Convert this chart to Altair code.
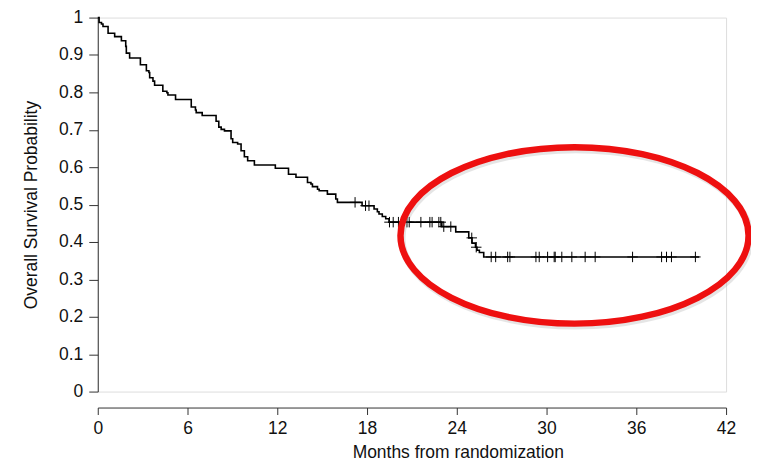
import altair as alt
import pandas as pd

# ---- Kaplan-Meier curve: month of each drop and survival level after it ----
event_months = [0.0, 0.09, 0.25, 0.35, 0.69, 1.13, 1.58, 1.87, 1.91, 2.13, 2.85, 3.25,
                3.42, 3.47, 3.69, 3.80, 4.35, 4.62, 4.69, 5.20, 6.25, 6.53, 6.58, 6.98,
                7.91, 8.09, 8.25, 8.47, 8.91, 9.02, 9.35, 9.58, 9.80, 10.02, 10.47, 11.87,
                12.75, 13.25, 14.02, 14.25, 14.35, 14.69, 14.80, 15.35, 15.91, 16.02, 17.67,
                18.47, 18.69, 18.80, 19.02, 19.25, 19.47, 23.0, 23.93, 24.8, 25.02, 25.25,
                25.35, 25.51, 25.8]
survival = [1.0, 0.987, 0.983, 0.976, 0.958, 0.949, 0.938, 0.923, 0.905, 0.892, 0.874, 0.858,
            0.853, 0.839, 0.830, 0.819, 0.803, 0.799, 0.793, 0.781, 0.761, 0.753, 0.746, 0.738,
            0.723, 0.707, 0.701, 0.697, 0.676, 0.666, 0.662, 0.644, 0.628, 0.617, 0.606, 0.597,
            0.581, 0.573, 0.559, 0.555, 0.548, 0.541, 0.537, 0.528, 0.515, 0.506, 0.497,
            0.488, 0.481, 0.475, 0.468, 0.462, 0.453, 0.441, 0.427, 0.411, 0.397, 0.386,
            0.378, 0.372, 0.360]
last_followup = 40.2

# censored observations (months)
censor_months = [17.2, 17.9, 18.13, 19.5, 19.75, 20.1, 20.67, 20.82, 21.6, 22.2, 22.35, 22.8,
                 22.93, 23.13, 23.6, 25.0, 25.3, 26.3, 26.6, 27.4, 27.55, 29.29, 29.51, 30.07,
                 30.51, 30.58, 31.02, 31.69, 32.58, 33.25, 35.75, 37.69, 38.02, 38.35, 39.95]

x_ticks = [0, 6, 12, 18, 24, 30, 36, 42]
y_ticks = [0, 0.1, 0.2, 0.3, 0.4, 0.5, 0.6, 0.7, 0.8, 0.9, 1]

# highlight ellipse (annotation) centre in data units
ellipse_center_month = [31.87]
ellipse_center_surv = [0.4176]

x_title = "Months from randomization"
y_title = "Overall Survival Probability"

# ---- build tables ----
curve = pd.DataFrame({"month": event_months + [last_followup],
                      "surv": survival + [survival[-1]]})


def level_at(t):
    lvl = survival[0]
    for m, s in zip(event_months, survival):
        if m <= t:
            lvl = s
    return lvl


censor = pd.DataFrame({"month": censor_months,
                       "surv": [level_at(t) for t in censor_months]})
ell = pd.DataFrame({"month": ellipse_center_month, "surv": ellipse_center_surv})

FONT = "Liberation Sans"

xs = alt.Scale(domain=[0, 42], nice=False, zero=False)
ys = alt.Scale(domain=[0, 1], nice=False)

x_axis = alt.Axis(values=x_ticks, title=x_title, offset=16, grid=False,
                  tickSize=7, labelPadding=5, labelFontSize=17.5, titleFontSize=17.5,
                  labelFont=FONT, titleFont=FONT, labelColor="#111", titleColor="#111",
                  titleFontWeight="normal", domainColor="#333", tickColor="#333",
                  titleX=361, titleY=50, titleBaseline="alphabetic", labelFlush=False,
                  labelOverlap=False)
y_axis = alt.Axis(values=y_ticks, tickCount=11, title=y_title, format="~g", grid=False,
                  tickSize=9, labelPadding=6, labelFontSize=17.5, titleFontSize=17.5,
                  labelFont=FONT, titleFont=FONT, labelColor="#111", titleColor="#111",
                  titleFontWeight="normal", domainColor="#333", tickColor="#333",
                  titleX=-66, titleBaseline="middle", labelFlush=False,
                  labelOverlap=False, labelBound=False)

X = alt.X("month:Q", scale=xs, axis=x_axis)
Y = alt.Y("surv:Q", scale=ys, axis=y_axis)

line = alt.Chart(curve).mark_line(interpolate="step-after", color="black",
                                  strokeWidth=1.6).encode(x=X, y=Y)

ticks = alt.Chart(censor).mark_point(
    shape="M0,-1L0,1M-1,0L1,0", size=110, color="black", strokeWidth=1,
    filled=False, opacity=1).encode(x=X, y=Y)

ELL = "M-1,0A1,0.507,0,1,1,1,0A1,0.507,0,1,1,-1,0Z"
shadow = alt.Chart(ell).mark_point(
    shape=ELL, size=349 * 349, filled=False, color="#999999", strokeWidth=7,
    opacity=0.25, xOffset=1.5, yOffset=2.5).encode(x=X, y=Y)
ring = alt.Chart(ell).mark_point(
    shape=ELL, size=349 * 349, filled=False, color="#ee1010", strokeWidth=6.5,
    opacity=1).encode(x=X, y=Y)

chart = alt.layer(line, ticks, shadow, ring).properties(
    width=630, height=375,
    autosize=alt.AutoSizeParams(type="none"),
    padding={"left": 90, "top": 9, "right": 25, "bottom": 70},
).configure_view(stroke=None).configure(background="white")

chart.save("out.html", embed_options={"renderer": "svg", "actions": False})
